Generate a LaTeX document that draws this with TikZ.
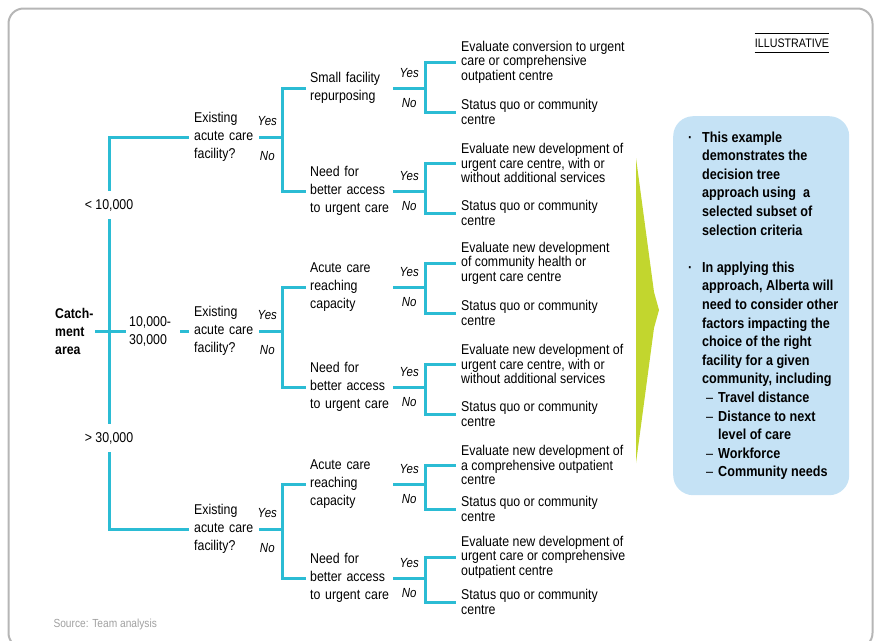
\documentclass[tikz,border=0pt]{standalone}
\usepackage{fontspec}
\setmainfont{Liberation Sans}[FakeStretch=0.87]
\definecolor{treecyan}{RGB}{43,188,212}
\definecolor{notebg}{RGB}{197,226,245}
\definecolor{chevrongreen}{RGB}{194,214,46}
\definecolor{framegray}{RGB}{182,182,182}
\definecolor{sourcegray}{RGB}{160,160,160}
\newcommand{\fsz}[2]{\fontsize{#1}{#2}\selectfont}

\begin{document}
\begin{tikzpicture}
        [x=1pt,y=-1pt,
         branch/.style={draw=treecyan,line width=3pt},
         rootlab/.style={anchor=west,align=left,inner xsep=1pt,text width=39pt,font=\bfseries\fsz{14.1}{18}},
         bandlab/.style={anchor=west,align=left,inner xsep=3pt,text width=48pt,font=\fsz{14.2}{18}},
         cutlab/.style={inner xsep=3pt,inner ysep=8.1pt,font=\fsz{14.2}{18}},
         question/.style={anchor=west,align=left,inner xsep=5pt,text width=60pt,font=\fsz{14.2}{18}},
         subq/.style={anchor=west,align=left,inner xsep=4pt,text width=79pt,font=\fsz{14.2}{18}},
         outcome/.style={anchor=west,align=left,inner xsep=5pt,font=\fsz{14.2}{14.5}},
         yeslab/.style={above=#1,inner sep=3pt,font=\itshape\fsz{13.2}{14}},
         yeslab/.default=5.8pt,
         nolab/.style={below=#1,inner sep=3pt,font=\itshape\fsz{13.2}{14}},
         nolab/.default=5.8pt,
         notebox/.style={anchor=north west,fill=notebg,rounded corners=20pt,align=left,
           inner xsep=11pt,minimum width=176pt,minimum height=379pt,font=\bfseries\fsz{14.5}{18.6}}]
        \useasboundingbox (0,0) rectangle (877,640);
        \draw[framegray,line width=2pt,rounded corners=15pt] (8.5,8.5) rectangle (872.5,648);

        \node[inner xsep=0pt,inner ysep=5pt,font=\fsz{12.3}{14}] (illus) at (792,43) {ILLUSTRATIVE};
        \draw[line width=0.9pt] (illus.north west) -- (illus.north east);
        \draw[line width=0.9pt] (illus.south west) -- (illus.south east);

        % catchment area split
        \node[rootlab] (root) at (54,331) {Catch-\\ment\\area};
        \node[bandlab] (mid) at (126,331) {10,000-\\30,000};
        \node[cutlab] (lt) at (109,205) {< 10,000};
        \node[cutlab] (gt) at (109,438) {> 30,000};

        \node[question] (q1) at (189,137) {Existing\\acute care\\facility?};
        \node[question] (q2) at (189,331) {Existing\\acute care\\facility?};
        \node[question] (q3) at (189,529) {Existing\\acute care\\facility?};

        \draw[branch] (root) -- (mid);
        \draw[branch] (lt) -- (gt);
        \draw[branch] (lt) |- (q1);
        \draw[branch] (gt) |- (q3);
        \draw[branch] (mid) -- (q2);

        \coordinate (j1) at (282,137);
        \coordinate (j2) at (282,331);
        \coordinate (j3) at (282,529);
        \draw[branch] (q1) -- node[yeslab=6.8pt,pos=0.35] {Yes} node[nolab=9.8pt,pos=0.35] {No} (j1);
        \draw[branch] (q2) -- node[yeslab=6.8pt,pos=0.35] {Yes} node[nolab=9.8pt,pos=0.35] {No} (j2);
        \draw[branch] (q3) -- node[yeslab=6.8pt,pos=0.35] {Yes} node[nolab=9.8pt,pos=0.35] {No} (j3);

        % second level
        \node[subq] (sf1) at (306,88) {Small facility\\repurposing};
        \node[subq] (nf1) at (306,191) {Need for\\better access\\to urgent care};
        \node[subq] (ac2) at (306,287) {Acute care\\reaching\\capacity};
        \node[subq] (nf2) at (306,387) {Need for\\better access\\to urgent care};
        \node[subq] (ac3) at (306,484) {Acute care\\reaching\\capacity};
        \node[subq] (nf3) at (306,578) {Need for\\better access\\to urgent care};

        \draw[branch] (j1) |- (sf1);
        \draw[branch] (j1) |- (nf1);
        \draw[branch] (j2) |- (ac2);
        \draw[branch] (j2) |- (nf2);
        \draw[branch] (j3) |- (ac3);
        \draw[branch] (j3) |- (nf3);

        \coordinate (k1) at (425,88);
        \coordinate (k2) at (425,191);
        \coordinate (k3) at (425,287);
        \coordinate (k4) at (425,387);
        \coordinate (k5) at (425,484);
        \coordinate (k6) at (425,578);
        \draw[branch] (sf1) -- node[yeslab] {Yes} node[nolab] {No} (k1);
        \draw[branch] (nf1) -- node[yeslab] {Yes} node[nolab] {No} (k2);
        \draw[branch] (ac2) -- node[yeslab] {Yes} node[nolab] {No} (k3);
        \draw[branch] (nf2) -- node[yeslab] {Yes} node[nolab] {No} (k4);
        \draw[branch] (ac3) -- node[yeslab] {Yes} node[nolab] {No} (k5);
        \draw[branch] (nf3) -- node[yeslab] {Yes} node[nolab] {No} (k6);

        % outcomes
        \node[outcome] (o1a) at (456,62) {Evaluate conversion to urgent\\care or comprehensive\\outpatient centre};
        \node[outcome] (o1b) at (456,112) {Status quo or community\\centre};
        \node[outcome] (o2a) at (456,163) {Evaluate new development of\\urgent care centre, with or\\without additional services};
        \node[outcome] (o2b) at (456,213) {Status quo or community\\centre};
        \node[outcome] (o3a) at (456,263) {Evaluate new development\\of community health or\\urgent care centre};
        \node[outcome] (o3b) at (456,313) {Status quo or community\\centre};
        \node[outcome] (o4a) at (456,364) {Evaluate new development of\\urgent care centre, with or\\without additional services};
        \node[outcome] (o4b) at (456,414) {Status quo or community\\centre};
        \node[outcome] (o5a) at (456,465) {Evaluate new development of\\a comprehensive outpatient\\centre};
        \node[outcome] (o5b) at (456,509) {Status quo or community\\centre};
        \node[outcome] (o6a) at (456,557) {Evaluate new development of\\urgent care or comprehensive\\outpatient centre};
        \node[outcome] (o6b) at (456,602) {Status quo or community\\centre};

        \draw[branch] (k1) |- (o1a);
        \draw[branch] (k1) |- (o1b);
        \draw[branch] (k2) |- (o2a);
        \draw[branch] (k2) |- (o2b);
        \draw[branch] (k3) |- (o3a);
        \draw[branch] (k3) |- (o3b);
        \draw[branch] (k4) |- (o4a);
        \draw[branch] (k4) |- (o4b);
        \draw[branch] (k5) |- (o5a);
        \draw[branch] (k5) |- (o5b);
        \draw[branch] (k6) |- (o6a);
        \draw[branch] (k6) |- (o6b);

        \fill[chevrongreen] (636,158) -- (654,292) -- (659,310) -- (654,328) -- (636,463) -- cycle;

        \node[notebox] (note) at (673,116) {%
          \makebox[18pt][l]{\hspace{4pt}·}This example\\
          \hspace*{18pt}demonstrates the\\
          \hspace*{18pt}decision tree\\
          \hspace*{18pt}approach using\ \ a\\
          \hspace*{18pt}selected subset of\\
          \hspace*{18pt}selection criteria\\[18.6pt]
          \makebox[18pt][l]{\hspace{4pt}·}In applying this\\
          \hspace*{18pt}approach, Alberta will\\
          \hspace*{18pt}need to consider other\\
          \hspace*{18pt}factors impacting the\\
          \hspace*{18pt}choice of the right\\
          \hspace*{18pt}facility for a given\\
          \hspace*{18pt}community, including\\
          \hspace*{22pt}\makebox[12pt][l]{\mdseries–}Travel distance\\
          \hspace*{22pt}\makebox[12pt][l]{\mdseries–}Distance to next\\
          \hspace*{34pt}level of care\\
          \hspace*{22pt}\makebox[12pt][l]{\mdseries–}Workforce\\
          \hspace*{22pt}\makebox[12pt][l]{\mdseries–}Community needs};

        \node[anchor=west,text=sourcegray,font=\fsz{11.7}{13}] (src) at (50,624) {Source: Team analysis};
      \end{tikzpicture}
\end{document}
